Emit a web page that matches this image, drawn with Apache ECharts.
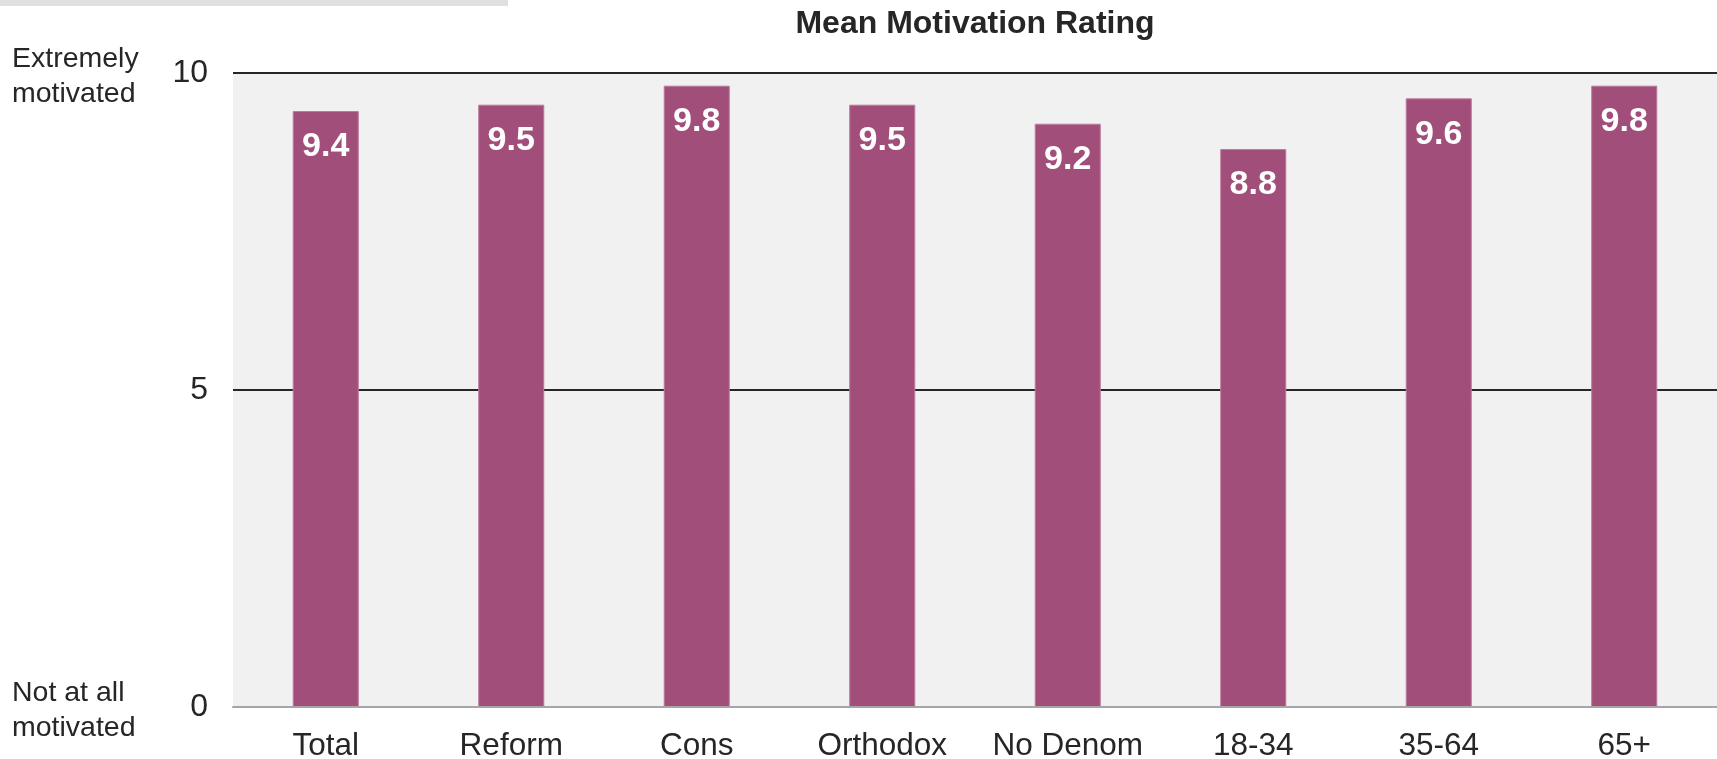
<!DOCTYPE html>
<html>
<head>
<meta charset="utf-8">
<script src="https://cdn.jsdelivr.net/npm/echarts@6/dist/echarts.min.js"></script>
<style>
html,body{margin:0;padding:0;background:#fff;}
#chart{width:1717px;height:759px;}
</style>
</head>
<body>
<div id="chart"></div>
<script>
const titleText = 'Mean Motivation Rating';
const categories = ['Total', 'Reform', 'Cons', 'Orthodox', 'No Denom', '18-34', '35-64', '65+'];
const meanRatings = [9.4, 9.5, 9.8, 9.5, 9.2, 8.8, 9.6, 9.8];
const yTicks = [0, 5, 10];
const scaleEndLabels = { 10: 'Extremely\nmotivated', 0: 'Not at all\nmotivated' };

const FONT = '"Liberation Sans", Arial, Helvetica, sans-serif';
const chart = echarts.init(document.getElementById('chart'), null, { renderer: 'canvas' });

chart.setOption({
  backgroundColor: '#ffffff',
  animation: false,
  textStyle: { fontFamily: FONT },
  title: {
    text: titleText,
    left: 975,
    textAlign: 'center',
    top: 8,
    padding: 0,
    textStyle: { fontFamily: FONT, fontSize: 32, fontWeight: 'bold', color: '#262626' }
  },
  graphic: [{
    type: 'rect',
    left: 0, top: 0,
    shape: { width: 508, height: 6 },
    style: { fill: '#e2e0de' },
    silent: true
  }],
  grid: {
    left: 233, right: 0, top: 73, bottom: 52,
    containLabel: false,
    outerBoundsMode: 'none',
    show: true, backgroundColor: '#f1f1f1', borderWidth: 0
  },
  xAxis: {
    type: 'category',
    data: categories,
    axisTick: { show: false },
    axisLine: { show: true, lineStyle: { color: '#a6a6a6', width: 2 } },
    axisLabel: { interval: 0, hideOverlap: false, color: '#262626', fontSize: 31.5, fontFamily: FONT, margin: 23 },
    z: 5
  },
  yAxis: [{
    type: 'value',
    min: yTicks[0], max: yTicks[yTicks.length - 1], interval: 5,
    axisLine: { show: false },
    axisTick: { show: false },
    splitLine: { show: true, lineStyle: { color: ['#a6a6a6', '#262626', '#262626'], width: 2 } },
    axisLabel: { color: '#262626', fontSize: 32, fontFamily: FONT, margin: 25 }
  }, {
    type: 'value',
    position: 'left',
    offset: 221,
    min: yTicks[0], max: yTicks[yTicks.length - 1], interval: 5,
    axisLine: { show: false },
    axisTick: { show: false },
    splitLine: { show: false },
    axisLabel: {
      align: 'left',
      margin: 0,
      color: '#262626', fontSize: 28.5, fontFamily: FONT, lineHeight: 35,
      formatter: v => scaleEndLabels[v] ? scaleEndLabels[v].split('\n').map(s => '{s|' + s + '}').join('\n') : '',
      rich: {
        s: { fontSize: 28.5, fontFamily: FONT, color: '#262626', lineHeight: 35, padding: [7, 0, 0, 0] }
      }
    }
  }],
  series: [{
    type: 'bar',
    data: meanRatings,
    barWidth: '35.6%',
    itemStyle: { color: '#a14f7a', borderColor: '#bb7a9c', borderWidth: 1 },
    label: {
      show: true,
      position: 'insideTop',
      distance: 19,
      color: '#ffffff',
      fontSize: 34,
      fontWeight: 'bold',
      fontFamily: FONT,
      formatter: p => p.value.toFixed(1)
    }
  }]
});
</script>
</body>
</html>
